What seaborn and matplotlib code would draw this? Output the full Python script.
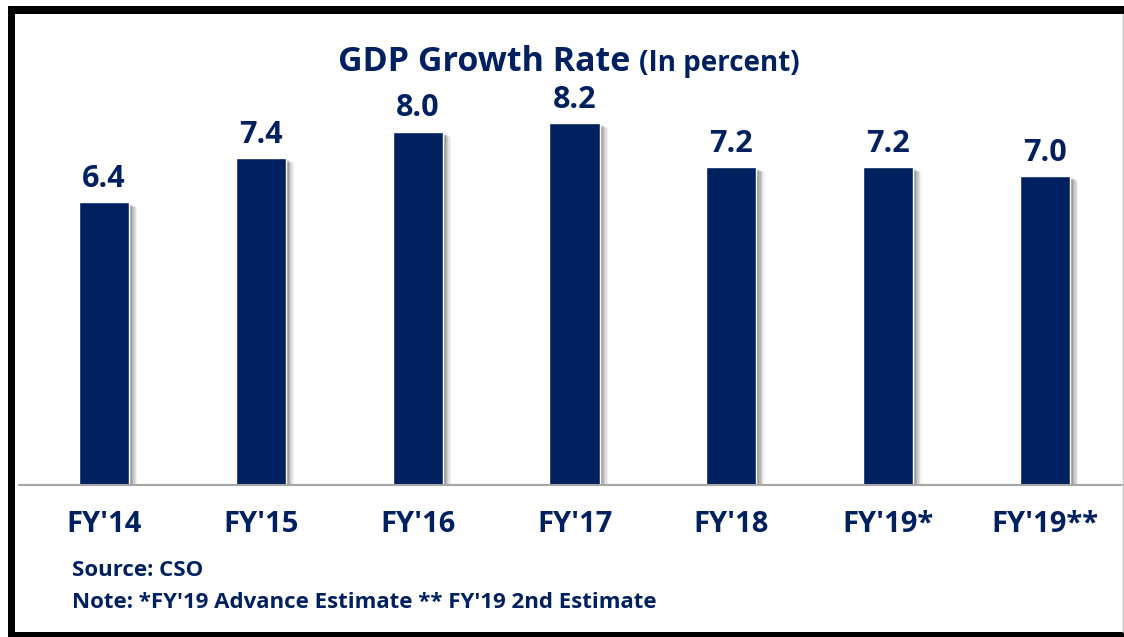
import matplotlib
matplotlib.use("Agg")
import matplotlib.pyplot as plt
import matplotlib.patheffects as pe
from matplotlib.patches import Rectangle
from matplotlib.lines import Line2D
import seaborn as sns
import pandas as pd

categories = ["FY'14", "FY'15", "FY'16", "FY'17", "FY'18", "FY'19*", "FY'19**"]
growth = [6.4, 7.4, 8.0, 8.2, 7.2, 7.2, 7.0]
title_main = "GDP Growth Rate"
title_unit = "(In percent)"
source_text = "Source: CSO"
note_text = "Note: *FY'19 Advance Estimate ** FY'19 2nd Estimate"

NAVY = "#002060"
W, H = 1124, 637

sns.set_theme(style="white")
plt.rcParams['font.family'] = ['Open Sans', 'DejaVu Sans']

fig = plt.figure(figsize=(W / 100, H / 100), dpi=100)
fig.patch.set_facecolor("white")

def fx(px):
    return px / W

def fy(py):
    return 1 - py / H

ax_left, ax_right = 25.6, 1123.4
ax_top, ax_base = 45, 485
ax = fig.add_axes([fx(ax_left), fy(ax_base), fx(ax_right - ax_left), (ax_base - ax_top) / H])

df = pd.DataFrame({"cat": categories, "val": growth})
sns.barplot(data=df, x="cat", y="val", color=NAVY, saturation=1, width=0.32, ax=ax)

ax.set_xlim(-0.5, len(categories) - 0.5)
ax.set_ylim(0, (ax_base - ax_top) / 44.15)

shadow = [
    pe.SimplePatchShadow(offset=(6, -3.5), shadow_rgbFace="black", alpha=0.05),
    pe.SimplePatchShadow(offset=(5, -3), shadow_rgbFace="black", alpha=0.07),
    pe.SimplePatchShadow(offset=(4, -2.5), shadow_rgbFace="black", alpha=0.09),
    pe.SimplePatchShadow(offset=(3, -2), shadow_rgbFace="black", alpha=0.11),
    pe.SimplePatchShadow(offset=(2, -1.5), shadow_rgbFace="black", alpha=0.13),
    pe.Normal(),
]
for p in ax.patches:
    p.set_path_effects(shadow)

for c in ax.containers:
    ax.bar_label(c, fmt="%.1f", padding=6, fontsize=22, fontweight="bold", color=NAVY)

ax.set_xlabel("")
ax.set_ylabel("")
ax.set_yticks([])
ax.tick_params(axis="x", length=0, pad=18, labelsize=21, labelcolor=NAVY)
for t in ax.get_xticklabels():
    t.set_fontweight("bold")
for s in ["left", "right", "top", "bottom"]:
    ax.spines[s].set_visible(False)
ax.set_facecolor("none")

fig.add_artist(Line2D([fx(19), fx(1122)], [fy(485), fy(485)], color="#a6a6a6", lw=1.5,
                      transform=fig.transFigure))

fig.text(fx(338), fy(62), title_main, fontsize=24.5, fontweight="bold", color=NAVY,
         ha="left", va="center")
tm = fig.texts[-1]
fig.canvas.draw()
bb = tm.get_window_extent()
fig.text(bb.x1 / W + fx(9), fy(63), title_unit, fontsize=20, fontweight="bold", color=NAVY,
         ha="left", va="center")

fig.text(fx(72), fy(571), source_text, fontsize=16, fontweight="bold", color=NAVY,
         ha="left", va="center")
fig.text(fx(72), fy(603), note_text, fontsize=16, fontweight="bold", color=NAVY,
         ha="left", va="center")

fig.add_artist(Rectangle((fx(8), fy(637)), fx(7), (637 - 6) / H, transform=fig.transFigure,
                         color="black", lw=0))
fig.add_artist(Rectangle((fx(8), fy(14)), fx(W - 8), 8 / H, transform=fig.transFigure,
                         color="black", lw=0))
fig.add_artist(Rectangle((fx(8), fy(637)), fx(W - 8), 5 / H, transform=fig.transFigure,
                         color="black", lw=0))
fig.add_artist(Line2D([fx(1122.5), fx(1122.5)], [fy(14), fy(632)], color="#bfbfbf", lw=1,
                      transform=fig.transFigure))

fig.savefig("out.png", dpi=100)
